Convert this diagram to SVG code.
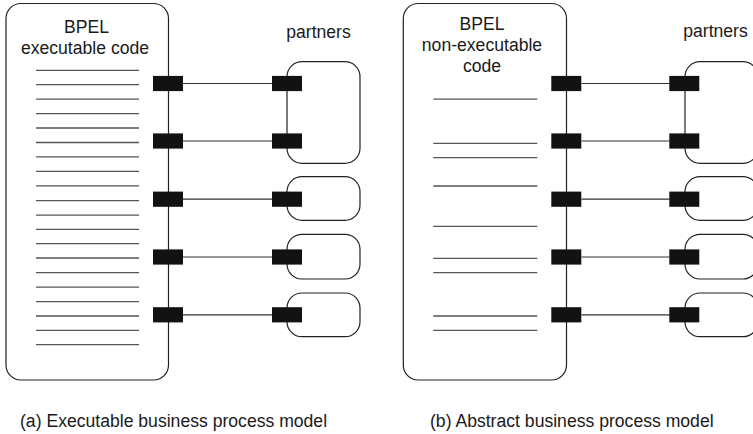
<svg xmlns="http://www.w3.org/2000/svg" width="753" height="434" viewBox="0 0 753 434">
<style>
text{font-family:"Liberation Sans",Arial,Helvetica,sans-serif;fill:#1a1a1a;font-size:17.6px}
.t{text-anchor:middle}
.box{fill:none;stroke:#222;stroke-width:1.2}
.code{stroke:#555;stroke-width:1.3}
.port{fill:#121212}
.conn{stroke:#333;stroke-width:1.2;fill:none}
</style>
<rect width="753" height="434" fill="#fff"/>
<defs>
<rect id="pt" class="port" x="-15" y="-7.6" width="30" height="15.2"/>
</defs>

<!-- Panel (a) -->
<g id="a-main">
<rect class="box" x="6" y="3.5" width="162.5" height="376.5" rx="15"/>
<text class="t" x="86.5" y="33">BPEL</text>
<text class="t" x="85" y="54.3">executable code</text>
<g class="code">
<line x1="36" x2="139" y1="70.3" y2="70.3"/><line x1="36" x2="139" y1="84.7" y2="84.7"/>
<line x1="36" x2="139" y1="99.1" y2="99.1"/><line x1="36" x2="139" y1="113.6" y2="113.6"/>
<line x1="36" x2="139" y1="128" y2="128"/><line x1="36" x2="139" y1="142.5" y2="142.5"/>
<line x1="36" x2="139" y1="156.9" y2="156.9"/><line x1="36" x2="139" y1="171.3" y2="171.3"/>
<line x1="36" x2="139" y1="185.8" y2="185.8"/><line x1="36" x2="139" y1="200.7" y2="200.7"/>
<line x1="36" x2="139" y1="215.2" y2="215.2"/><line x1="36" x2="139" y1="229.3" y2="229.3"/>
<line x1="36" x2="139" y1="243.7" y2="243.7"/><line x1="36" x2="139" y1="258" y2="258"/>
<line x1="36" x2="139" y1="272.6" y2="272.6"/><line x1="36" x2="139" y1="287.2" y2="287.2"/>
<line x1="36" x2="139" y1="301.6" y2="301.6"/><line x1="36" x2="139" y1="316" y2="316"/>
<line x1="36" x2="139" y1="330.3" y2="330.3"/><line x1="36" x2="139" y1="344.7" y2="344.7"/>
</g>
</g>
<text id="a-partners-label" class="t" x="318.5" y="38.3">partners</text>
<g id="a-partner1"><rect class="box" x="287" y="61.7" width="73" height="101.6" rx="15"/></g>
<g id="a-partner2"><rect class="box" x="287" y="176.7" width="73" height="43.6" rx="15"/></g>
<g id="a-partner3"><rect class="box" x="287" y="234.3" width="73" height="44.7" rx="15"/></g>
<g id="a-partner4"><rect class="box" x="287" y="293" width="73" height="43.7" rx="15"/></g>
<g id="a-connectors">
<line class="conn" x1="183" y1="83.5" x2="272" y2="83.5"/>
<line class="conn" x1="183" y1="141" x2="272" y2="141"/>
<line class="conn" x1="183" y1="199.2" x2="272" y2="199.2"/>
<line class="conn" x1="183" y1="257" x2="272" y2="257"/>
<line class="conn" x1="183" y1="314.8" x2="272" y2="314.8"/>
<use href="#pt" x="168" y="83.5"/><use href="#pt" x="168" y="141"/><use href="#pt" x="168" y="199.2"/><use href="#pt" x="168" y="257"/><use href="#pt" x="168" y="314.8"/>
<use href="#pt" x="287" y="83.5"/><use href="#pt" x="287" y="141"/><use href="#pt" x="287" y="199.2"/><use href="#pt" x="287" y="257"/><use href="#pt" x="287" y="314.8"/>
</g>
<text id="a-caption" x="20" y="426.5">(a) Executable business process model</text>

<!-- Panel (b) -->
<g id="b-main">
<rect class="box" x="403.3" y="3.5" width="163.2" height="376.5" rx="15"/>
<text class="t" x="482" y="29.5">BPEL</text>
<text class="t" x="482" y="50.5">non-executable</text>
<text class="t" x="482" y="71.7">code</text>
<g class="code">
<line x1="433.3" x2="537.3" y1="99.1" y2="99.1"/><line x1="433.3" x2="537.3" y1="143.3" y2="143.3"/>
<line x1="433.3" x2="537.3" y1="157.7" y2="157.7"/><line x1="433.3" x2="537.3" y1="186" y2="186"/>
<line x1="433.3" x2="537.3" y1="226.3" y2="226.3"/><line x1="433.3" x2="537.3" y1="258.3" y2="258.3"/>
<line x1="433.3" x2="537.3" y1="272.7" y2="272.7"/><line x1="433.3" x2="537.3" y1="316" y2="316"/>
<line x1="433.3" x2="537.3" y1="330.3" y2="330.3"/>
</g>
</g>
<text id="b-partners-label" class="t" x="715.5" y="37">partners</text>
<g id="b-partner1"><rect class="box" x="685" y="61.7" width="73" height="101.6" rx="15"/></g>
<g id="b-partner2"><rect class="box" x="685" y="176.7" width="73" height="43.6" rx="15"/></g>
<g id="b-partner3"><rect class="box" x="685" y="234.3" width="73" height="44.7" rx="15"/></g>
<g id="b-partner4"><rect class="box" x="685" y="293" width="73" height="43.7" rx="15"/></g>
<g id="b-connectors">
<line class="conn" x1="581.5" y1="83.5" x2="669.5" y2="83.5"/>
<line class="conn" x1="581.5" y1="141" x2="669.5" y2="141"/>
<line class="conn" x1="581.5" y1="199.2" x2="669.5" y2="199.2"/>
<line class="conn" x1="581.5" y1="257" x2="669.5" y2="257"/>
<line class="conn" x1="581.5" y1="314.8" x2="669.5" y2="314.8"/>
<use href="#pt" x="566.3" y="83.5"/><use href="#pt" x="566.3" y="141"/><use href="#pt" x="566.3" y="199.2"/><use href="#pt" x="566.3" y="257"/><use href="#pt" x="566.3" y="314.8"/>
<use href="#pt" x="684.3" y="83.5"/><use href="#pt" x="684.3" y="141"/><use href="#pt" x="684.3" y="199.2"/><use href="#pt" x="684.3" y="257"/><use href="#pt" x="684.3" y="314.8"/>
</g>
<text id="b-caption" x="430" y="426.5">(b) Abstract business process model</text>
</svg>
